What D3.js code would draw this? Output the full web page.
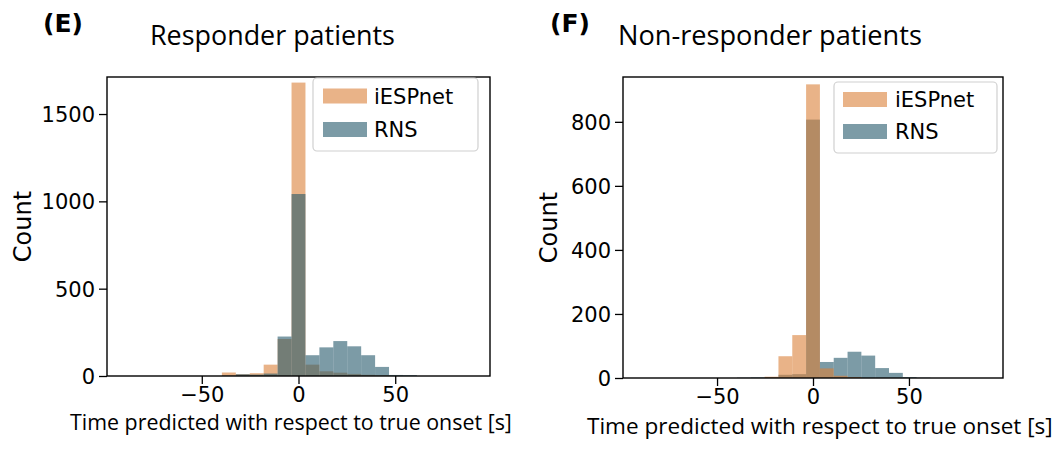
<!DOCTYPE html>
<html>
<head>
<meta charset="utf-8">
<script src="https://cdn.jsdelivr.net/npm/d3@7"></script>
<style>
  body { margin: 0; background: #fff; }
  text { fill: #000; }
</style>
</head>
<body>
<script>
// histogram bins: 25 bins of 7.2 s from -90 to 90
var binStart = -90;
var binWidth = 7.2;

// counts per bin (bin 12 is centred on 0)
var respIESPnet = [0, 0, 0, 0, 0, 0, 0, 20, 10, 16, 65, 212, 1680, 65, 27, 19, 12, 7, 4, 1, 0, 0, 0, 0, 0];
var respRNS     = [0, 0, 0, 0, 0, 0, 0, 2, 10, 8, 14, 226, 1042, 119, 164, 200, 170, 119, 52, 6, 5, 0, 0, 0, 0];
var nonIESPnet  = [0, 0, 0, 0, 0, 0, 0, 0, 0, 4, 68, 134, 917, 30, 7, 3, 0, 0, 0, 0, 0, 0, 0, 0, 0];
var nonRNS      = [0, 0, 0, 0, 0, 0, 0, 1, 2, 3, 10, 12, 807, 50, 63, 82, 70, 31, 16, 3, 1, 0, 0, 0, 0];

var respYTicks = [0, 500, 1000, 1500];
var nonYTicks = [0, 200, 400, 600, 800];
var xTicks = [-50, 0, 50];

var seriesNames = ['iESPnet', 'RNS'];
var colors = {iESPnet: '#db8038', RNS: '#25586b'};
var barOpacity = 0.6;

var width = 1064, height = 454;
var svg = d3.select('body').append('svg')
  .attr('width', width)
  .attr('height', height);

// scale a text element's font size so it spans the given width
function fitWidth(sel, target) {
  var fs = parseFloat(sel.attr('font-size'));
  var w = sel.node().getComputedTextLength();
  if (w > 0) sel.attr('font-size', (fs * target / w).toFixed(2));
}

var panels = [
  {
    letter: '(E)', letterX: 43, title: 'Responder patients', titleX: 150, titleW: 245,
    x0: 107, x1: 490, y0: 77, y1: 376, yMax: 1712, yTicks: respYTicks,
    series: {iESPnet: respIESPnet, RNS: respRNS}, order: ['iESPnet', 'RNS'],
    countX: 31, xlabelX: 70, xlabelY: 430, xlabelW: 442,
    legend: {x0: 313, x1: 478, y0: 78, y1: 151, px: 323, pw: 44, rows: [96, 129.5], tx: 374}
  },
  {
    letter: '(F)', letterX: 550, title: 'Non-responder patients', titleX: 618, titleW: 304,
    x0: 623, x1: 1003, y0: 77, y1: 378, yMax: 940, yTicks: nonYTicks,
    series: {iESPnet: nonIESPnet, RNS: nonRNS}, order: ['RNS', 'iESPnet'],
    countX: 557, xlabelX: 587, xlabelY: 434, xlabelW: 466,
    legend: {x0: 834, x1: 997, y0: 82, y1: 153, px: 843, pw: 44, rows: [99.5, 131.5], tx: 895}
  }
];

panels.forEach(function(p) {
  var g = svg.append('g');

  var x = d3.scaleLinear().domain([-99, 99]).range([p.x0, p.x1]);
  var y = d3.scaleLinear().domain([0, p.yMax]).range([p.y1, p.y0]);

  // bars
  p.order.forEach(function(name) {
    var counts = p.series[name];
    g.append('g').selectAll('rect')
      .data(counts)
      .enter()
      .append('rect')
      .attr('x', function(d, i) { return x(binStart + i * binWidth); })
      .attr('width', function(d, i) { return x(binStart + (i + 1) * binWidth) - x(binStart + i * binWidth); })
      .attr('y', function(d) { return y(d); })
      .attr('height', function(d) { return y(0) - y(d); })
      .attr('fill', colors[name])
      .attr('fill-opacity', barOpacity);
  });

  // frame
  g.append('rect')
    .attr('x', p.x0).attr('y', p.y0)
    .attr('width', p.x1 - p.x0).attr('height', p.y1 - p.y0)
    .attr('fill', 'none').attr('stroke', '#000').attr('stroke-width', 1.4);

  // axes
  var xAxis = g.append('g')
    .attr('transform', 'translate(0,' + p.y1 + ')')
    .call(d3.axisBottom(x).tickValues(xTicks).tickSizeOuter(0).tickSize(8).tickPadding(3)
      .tickFormat(function(d) { return d < 0 ? '\u2212' + Math.abs(d) : d; }));
  var yAxis = g.append('g')
    .attr('transform', 'translate(' + p.x0 + ',0)')
    .call(d3.axisLeft(y).tickValues(p.yTicks).tickSizeOuter(0).tickSize(8).tickPadding(4)
      .tickFormat(d3.format('d')));
  [xAxis, yAxis].forEach(function(a) {
    a.select('.domain').remove();
    a.selectAll('.tick line').attr('stroke', '#000').attr('stroke-width', 1.3);
    a.selectAll('.tick text')
      .attr('font-family', 'DejaVu Sans').attr('font-size', 21).attr('fill', '#000');
  });
  yAxis.selectAll('.tick text').attr('dy', '0.36em');

  // legend
  var L = p.legend;
  g.append('rect')
    .attr('x', L.x0).attr('y', L.y0)
    .attr('width', L.x1 - L.x0).attr('height', L.y1 - L.y0)
    .attr('rx', 4)
    .attr('fill', '#fff').attr('fill-opacity', 0.8)
    .attr('stroke', '#d0d0d0').attr('stroke-width', 1.2);
  seriesNames.forEach(function(name, i) {
    g.append('rect')
      .attr('x', L.px).attr('y', L.rows[i] - 7.5)
      .attr('width', L.pw).attr('height', 15)
      .attr('fill', colors[name]).attr('fill-opacity', barOpacity);
    g.append('text')
      .attr('x', L.tx).attr('y', L.rows[i]).attr('dy', '0.36em')
      .attr('font-family', 'DejaVu Sans').attr('font-size', 21)
      .text(name);
  });

  // y label
  g.append('text')
    .attr('transform', 'translate(' + p.countX + ',' + ((p.y0 + p.y1) / 2) + ') rotate(-90)')
    .attr('text-anchor', 'middle')
    .attr('font-family', 'DejaVu Sans').attr('font-size', 24)
    .text('Count');

  // x label
  var xl = g.append('text')
    .attr('x', p.xlabelX).attr('y', p.xlabelY)
    .attr('font-family', 'Open Sans').attr('font-size', 21)
    .text('Time predicted with respect to true onset [s]');
  fitWidth(xl, p.xlabelW);

  // title
  var t = g.append('text')
    .attr('x', p.titleX).attr('y', 45)
    .attr('font-family', 'Open Sans').attr('font-size', 24)
    .text(p.title);
  fitWidth(t, p.titleW);

  // panel letter
  g.append('text')
    .attr('x', p.letterX).attr('y', 32)
    .attr('font-family', 'DejaVu Sans').attr('font-weight', 'bold').attr('font-size', 25)
    .text(p.letter);
});
</script>
</body>
</html>
